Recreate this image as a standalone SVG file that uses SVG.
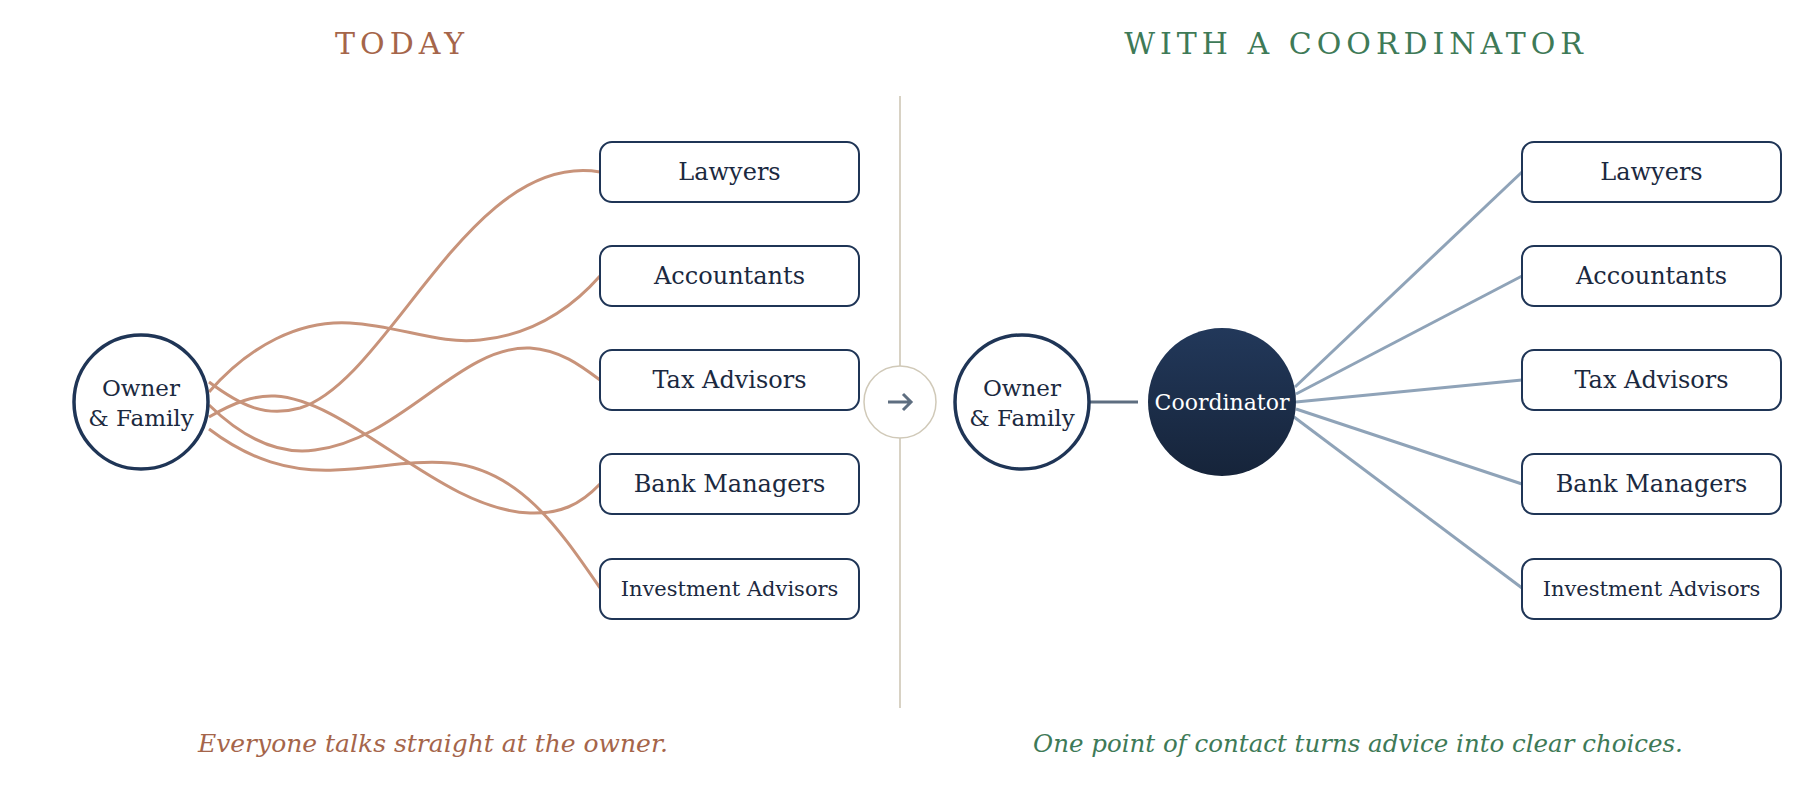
<svg xmlns="http://www.w3.org/2000/svg" width="1800" height="792" viewBox="0 0 1800 792">
<style>
text{font-family:"DejaVu Serif",serif}
.box{fill:#fff;stroke:#1F3556;stroke-width:2}
.lbl{fill:#1B2940;font-size:24px;text-anchor:middle}
.small{font-size:21px}
.own{fill:#fff;stroke:#1F3556;stroke-width:3.5}
.olbl{fill:#1B2940;font-size:23px;text-anchor:middle}
.curve{fill:none;stroke:#C8937A;stroke-width:3}
.spoke{fill:none;stroke:#8FA3B8;stroke-width:3}
</style>
<defs>
<linearGradient id="cg" x1="0" y1="0" x2="0" y2="1"><stop offset="0" stop-color="#22385A"/><stop offset="1" stop-color="#16243A"/></linearGradient>
</defs>
<rect width="1800" height="792" fill="#fff"/>
<text x="402" y="54" font-size="30" fill="#A5654A" text-anchor="middle" letter-spacing="5">TODAY</text>
<text x="1356" y="54" font-size="30" fill="#3E7A57" text-anchor="middle" letter-spacing="5">WITH A COORDINATOR</text>
<text x="433" y="752" font-size="25" font-style="italic" fill="#A5654A" text-anchor="middle">Everyone talks straight at the owner.</text>
<text x="1358" y="752" font-size="24.5" font-style="italic" fill="#3E7A57" text-anchor="middle">One point of contact turns advice into clear choices.</text>
<g id="connectors">
<path class="curve" d="M209,382 C240,405 265,418 300,408 C390,380 470,150 600,172"/>
<path class="curve" d="M209,392 C250,345 300,320 350,323 C400,326 440,345 480,340 C530,335 570,310 600,276"/>
<path class="curve" d="M209,405 C245,440 280,455 315,450 C400,440 460,345 530,348 C560,350 580,365 600,380"/>
<path class="curve" d="M209,417 C235,402 255,395 275,396 C350,400 440,510 530,513 C560,514 580,505 600,484"/>
<path class="curve" d="M209,429 C250,460 290,472 335,470 C380,468 410,460 450,463 C520,470 560,530 600,588"/>
<line x1="1090" y1="402" x2="1138" y2="402" stroke="#5E6E80" stroke-width="3"/>
<line class="spoke" x1="1295" y1="387" x2="1522" y2="172"/>
<line class="spoke" x1="1296" y1="394" x2="1522" y2="276"/>
<line class="spoke" x1="1296" y1="402" x2="1522" y2="380"/>
<line class="spoke" x1="1296" y1="409" x2="1522" y2="484"/>
<line class="spoke" x1="1294" y1="417" x2="1522" y2="588"/>
</g>
<g id="divider">
<line x1="900" y1="96" x2="900" y2="366" stroke="#D8D2C4" stroke-width="2"/>
<line x1="900" y1="438" x2="900" y2="708" stroke="#D8D2C4" stroke-width="2"/>
<circle cx="900" cy="402" r="36" fill="#fff" stroke="#D0C9B8" stroke-width="1.5"/>
<path d="M888,402 H911 M903,394 L911,402 L903,410" fill="none" stroke="#5E6E80" stroke-width="3"/>
</g>
<g id="owner-left"><circle class="own" cx="141" cy="402" r="67"/><text class="olbl" x="141" y="396">Owner</text><text class="olbl" x="141" y="426">&amp; Family</text></g>
<g id="l-lawyers"><rect class="box" x="600" y="142" width="259" height="60" rx="12"/><text class="lbl" x="729.5" y="180">Lawyers</text></g>
<g id="l-accountants"><rect class="box" x="600" y="246" width="259" height="60" rx="12"/><text class="lbl" x="729.5" y="284">Accountants</text></g>
<g id="l-tax"><rect class="box" x="600" y="350" width="259" height="60" rx="12"/><text class="lbl" x="729.5" y="388">Tax Advisors</text></g>
<g id="l-bank"><rect class="box" x="600" y="454" width="259" height="60" rx="12"/><text class="lbl" x="729.5" y="492">Bank Managers</text></g>
<g id="l-invest"><rect class="box" x="600" y="559" width="259" height="60" rx="12"/><text class="lbl small" x="729.5" y="596">Investment Advisors</text></g>
<g id="owner-right"><circle class="own" cx="1022" cy="402" r="67"/><text class="olbl" x="1022" y="396">Owner</text><text class="olbl" x="1022" y="426">&amp; Family</text></g>
<g id="coordinator"><circle cx="1222" cy="402" r="74" fill="url(#cg)"/><text x="1222" y="410" style="fill:#fff;font-size:22px;text-anchor:middle">Coordinator</text></g>
<g id="r-lawyers"><rect class="box" x="1522" y="142" width="259" height="60" rx="12"/><text class="lbl" x="1651.5" y="180">Lawyers</text></g>
<g id="r-accountants"><rect class="box" x="1522" y="246" width="259" height="60" rx="12"/><text class="lbl" x="1651.5" y="284">Accountants</text></g>
<g id="r-tax"><rect class="box" x="1522" y="350" width="259" height="60" rx="12"/><text class="lbl" x="1651.5" y="388">Tax Advisors</text></g>
<g id="r-bank"><rect class="box" x="1522" y="454" width="259" height="60" rx="12"/><text class="lbl" x="1651.5" y="492">Bank Managers</text></g>
<g id="r-invest"><rect class="box" x="1522" y="559" width="259" height="60" rx="12"/><text class="lbl small" x="1651.5" y="596">Investment Advisors</text></g>
</svg>
